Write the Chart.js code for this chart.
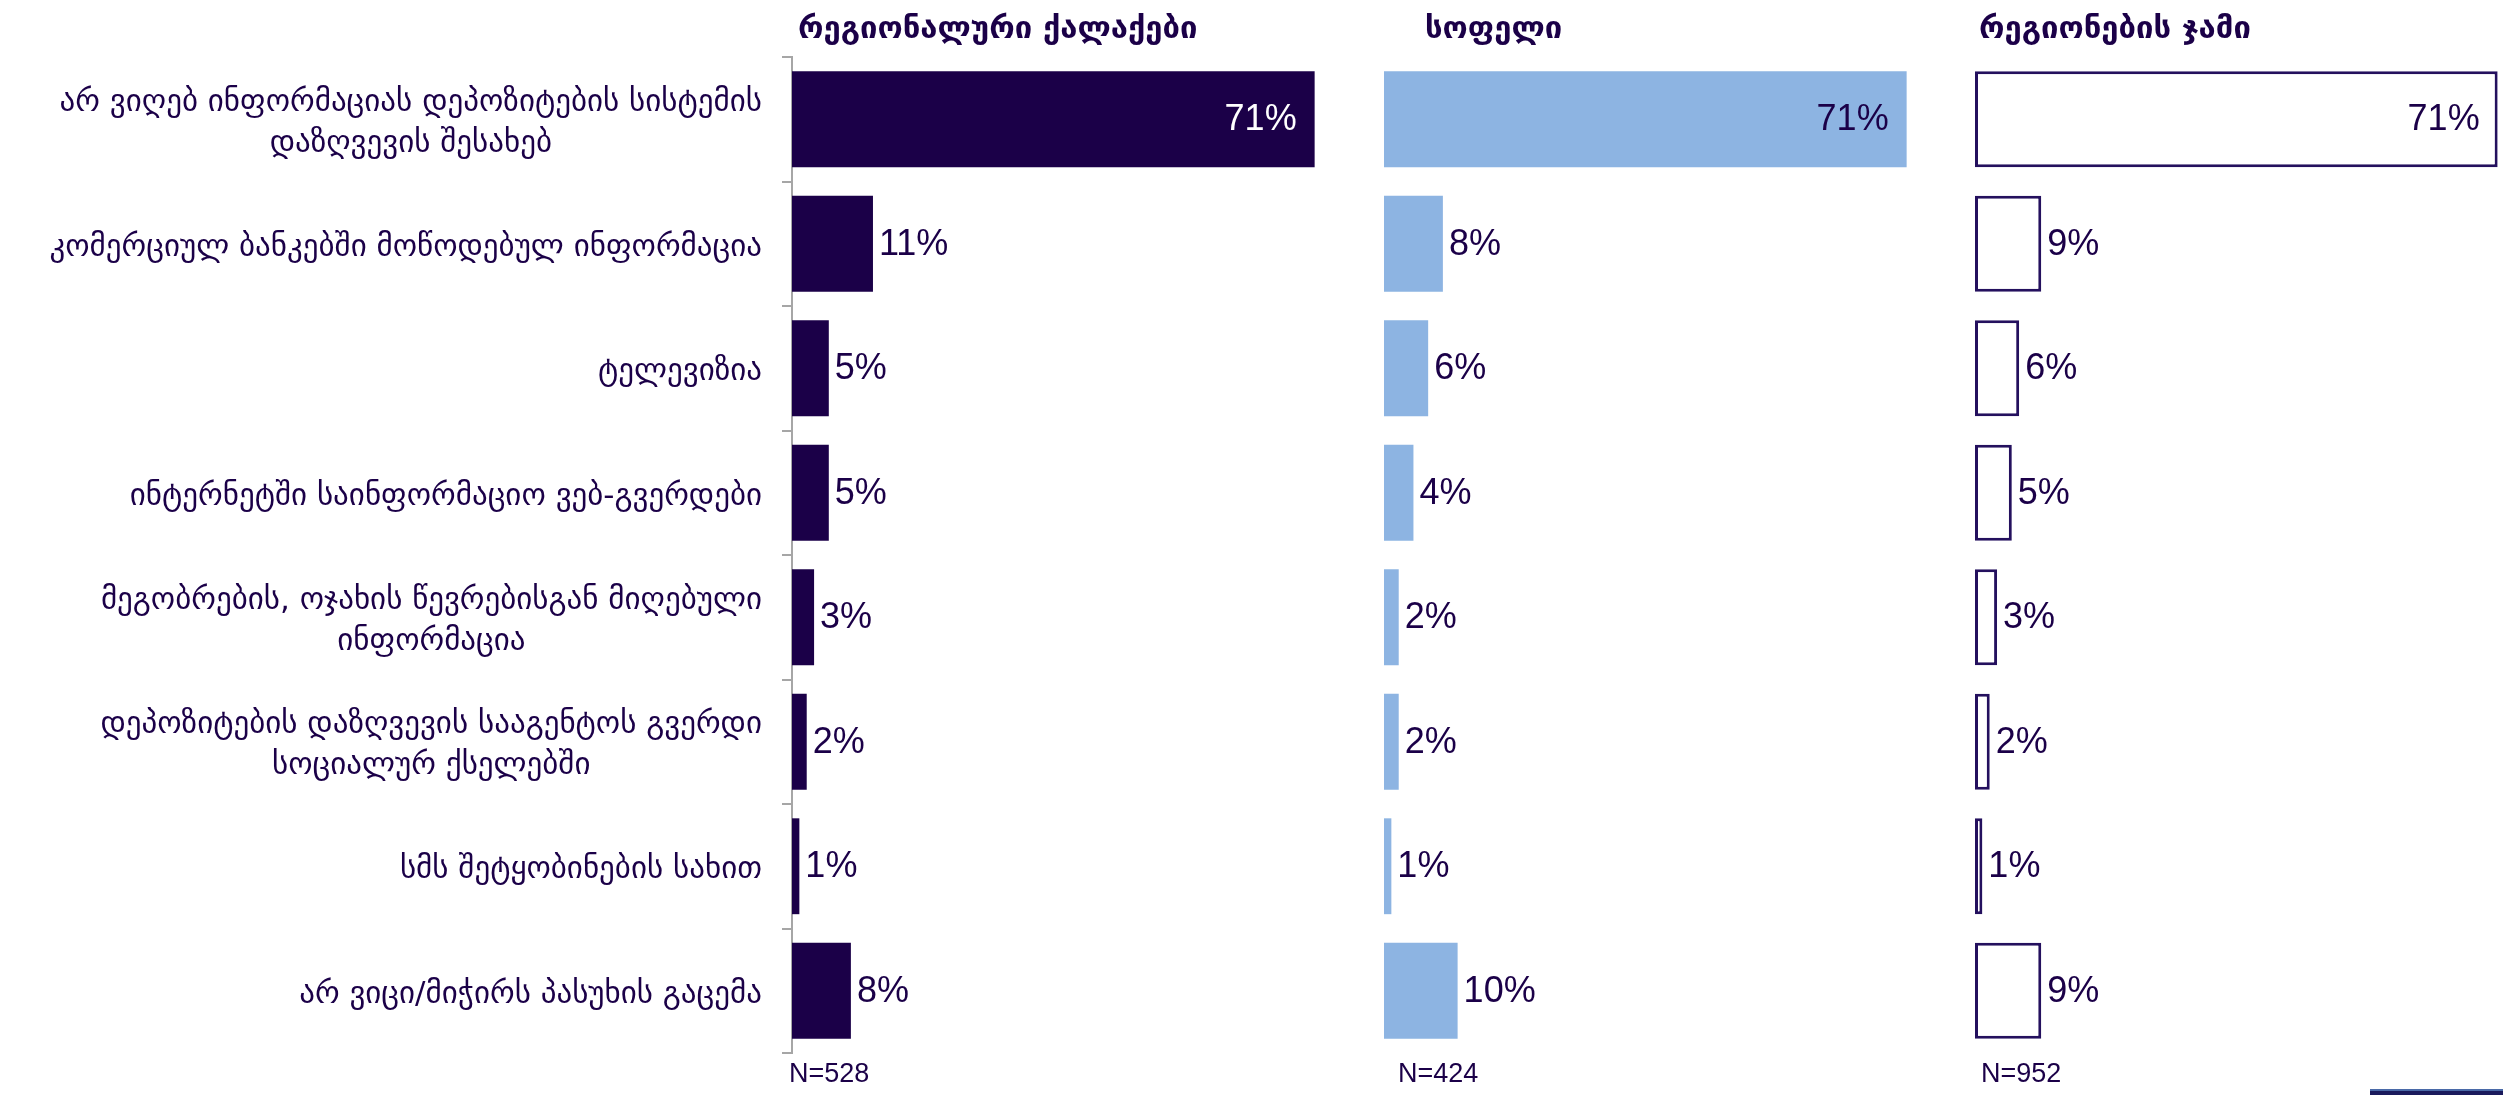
<!DOCTYPE html>
<html>
<head>
<meta charset="utf-8">
<script src="https://cdn.jsdelivr.net/npm/chart.js@4.4.1/dist/chart.umd.min.js"></script>
<style>
  html, body { margin: 0; padding: 0; background: #fff; }
  #page { position: relative; width: 2503px; height: 1095px; overflow: hidden; background: #fff; }
  #page canvas { position: absolute; top: 0; }
  .title { position: absolute; top: 9px; line-height: 36px; font: bold 31px "DejaVu Sans", sans-serif; color: #1b0048; white-space: nowrap; }
  .base { position: absolute; top: 1058px; line-height: 30px; font-size: 27px; font-family: "Liberation Sans", Arial, sans-serif; color: #1b0048; }
  #footbar { position: absolute; left: 2370px; top: 1089px; width: 140px; height: 6px; background: #1a1a5c; border-top: 2px solid #4a6aa8; box-sizing: border-box; }
</style>
</head>
<body>
<div id="page">
  <canvas id="cityChart" width="1322" height="1095" style="left:0px"></canvas>
  <canvas id="ruralChart" width="530" height="1095" style="left:1384px"></canvas>
  <canvas id="totalChart" width="530" height="1095" style="left:1975px"></canvas>
  <div class="title" id="title0" style="left:798px"></div>
  <div class="title" id="title1" style="left:1425px"></div>
  <div class="title" id="title2" style="left:1979px"></div>
  <div class="base" id="base0" style="left:789px"></div>
  <div class="base" id="base1" style="left:1398px"></div>
  <div class="base" id="base2" style="left:1981px"></div>
  <div id="footbar"></div>
</div>
<script>
const categories = [
  ['არ ვიღებ ინფორმაციას დეპოზიტების სისტემის', 'დაზღვევის შესახებ'],
  ['კომერციულ ბანკებში მოწოდებულ ინფორმაცია'],
  ['ტელევიზია'],
  ['ინტერნეტში საინფორმაციო ვებ-გვერდები'],
  ['მეგობრების, ოჯახის წევრებისგან მიღებული', 'ინფორმაცია'],
  ['დეპოზიტების დაზღვევის სააგენტოს გვერდი', 'სოციალურ ქსელებში'],
  ['სმს შეტყობინების სახით'],
  ['არ ვიცი/მიჭირს პასუხის გაცემა']
];
const cityValues = [71, 11, 5, 5, 3, 2, 1, 8];
const ruralValues = [71, 8, 6, 4, 2, 2, 1, 10];
const totalValues = [71, 9, 6, 5, 3, 2, 1, 9];
const panelTitles = ['რეგიონალური ქალაქები', 'სოფელი', 'რეგიონების ჯამი'];
const sampleSizes = ['N=528', 'N=424', 'N=952'];

const NAVY = '#1b0048';
const LIGHT_BLUE = '#8db4e2';
const AXIS_GREY = '#a6a6a6';

panelTitles.forEach((t, i) => { document.getElementById('title' + i).textContent = t; });
sampleSizes.forEach((t, i) => { document.getElementById('base' + i).textContent = t; });

// percentage labels: inside the long bar, just past the end of short ones
const valueLabels = {
  id: 'valueLabels',
  afterDatasetsDraw(chart, args, opts) {
    const ctx = chart.ctx;
    const values = chart.data.datasets[0].data;
    ctx.save();
    ctx.font = '36px "Liberation Sans", Arial, sans-serif';
    ctx.textBaseline = 'middle';
    chart.getDatasetMeta(0).data.forEach((bar, i) => {
      const text = values[i] + '%';
      if (values[i] >= 50) {
        ctx.textAlign = 'right';
        ctx.fillStyle = opts.insideColor;
        ctx.fillText(text, bar.x - 18, bar.y + 1);
      } else {
        ctx.textAlign = 'left';
        ctx.fillStyle = NAVY;
        ctx.fillText(text, bar.x + 6, bar.y + 1);
      }
    });
    ctx.restore();
  }
};

// category names, right-aligned as a block with wrapped lines centred on each other
const categoryLabels = {
  id: 'categoryLabels',
  afterDraw(chart) {
    const scale = chart.scales.y;
    if (!scale.options.display) return;
    const ctx = chart.ctx;
    const right = scale.right - 30;
    const lineHeight = 41;
    ctx.save();
    ctx.font = '31px "DejaVu Sans", sans-serif';
    ctx.fillStyle = NAVY;
    ctx.textAlign = 'center';
    ctx.textBaseline = 'middle';
    categories.forEach((lines, i) => {
      const y = scale.getPixelForValue(i);
      const w = Math.max(...lines.map(l => ctx.measureText(l).width));
      const cx = right - w / 2;
      lines.forEach((line, j) => {
        ctx.fillText(line, cx, y + 4 + (j - (lines.length - 1) / 2) * lineHeight);
      });
    });
    ctx.restore();
  }
};

function makePanel(id, values, dataset, withAxis, insideColor) {
  const ctx = document.getElementById(id).getContext('2d');
  const yAxis = {
    display: withAxis,
    ticks: { display: false },
    grid: {
      offset: true,
      drawOnChartArea: false,
      drawTicks: true,
      tickLength: 10,
      color: AXIS_GREY,
      lineWidth: 2
    },
    border: { display: true, color: AXIS_GREY, width: 2 }
  };
  if (withAxis) {
    yAxis.afterFit = (scale) => { scale.width = 792; };
  }
  return new Chart(ctx, {
    type: 'bar',
    data: {
      labels: categories.map(c => c.join(' ')),
      datasets: [Object.assign({
        data: values,
        barPercentage: 0.77,
        categoryPercentage: 1
      }, dataset)]
    },
    options: {
      indexAxis: 'y',
      responsive: false,
      animation: false,
      layout: { padding: { top: 57, bottom: 42, left: 0, right: 0 } },
      plugins: {
        legend: { display: false },
        tooltip: { enabled: false },
        valueLabels: { insideColor: insideColor }
      },
      scales: {
        x: { display: false, min: 0, max: 72 },
        y: yAxis
      }
    },
    plugins: [valueLabels, categoryLabels]
  });
}

makePanel('cityChart', cityValues, { backgroundColor: NAVY, borderWidth: 0 }, true, '#ffffff');
makePanel('ruralChart', ruralValues, { backgroundColor: LIGHT_BLUE, borderWidth: 0 }, false, NAVY);
makePanel('totalChart', totalValues, {
  backgroundColor: '#ffffff',
  borderColor: '#24105e',
  borderWidth: 3,
  borderSkipped: false
}, false, NAVY);
</script>
</body>
</html>
